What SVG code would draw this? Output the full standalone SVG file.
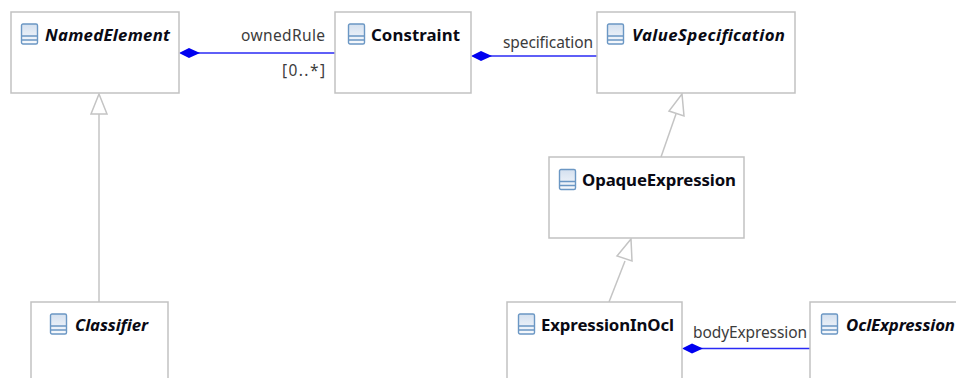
<svg xmlns="http://www.w3.org/2000/svg" width="956" height="378" viewBox="0 0 956 378">
<style>
.box{fill:#fff;stroke:#c2c2c2;stroke-width:1.5}
.name{font-family:"Noto Sans","DejaVu Sans",sans-serif;font-size:16.800px;font-weight:700;fill:#0a0a14}
.abs{font-style:italic}
.lbl{font-family:"Noto Sans","DejaVu Sans",sans-serif;font-size:15.500px;fill:#3c3c3c}
.gen{fill:none;stroke:#c4c4c4;stroke-width:1.5}
.head{fill:#fff;stroke:#c4c4c4;stroke-width:1.5}
.comp{stroke:#2a2af5;stroke-width:1.7;fill:none}
.dia{fill:#0000f0;stroke:none}
</style>
<defs>
<linearGradient id="g" x1="0" y1="0" x2="0" y2="1"><stop offset="0" stop-color="#d4e0ef"/><stop offset="1" stop-color="#f8fafd"/></linearGradient>
<g id="icon">
<rect x="0.5" y="0.5" width="16" height="20" rx="1.5" fill="url(#g)" stroke="#6b97c4" stroke-width="1.4"/>
<path d="M0.5 12.500H16.500M0.500 16.500H16.500" stroke="#6b97c4" stroke-width="1.4" fill="none"/>
</g>
<path id="diamond" d="M0 0L10 -5L21 0L10 5Z"/>
</defs>
<g id="connectors">
<path class="gen" d="M99 114V302"/>
<path class="head" d="M99 94L91 114H107Z"/>
<path class="gen" d="M661 157L676 114"/>
<path class="head" d="M682 94L669 111L684 116Z"/>
<path class="gen" d="M609 302L625 261"/>
<path class="head" d="M631 239L617 256L632 261Z"/>
<path class="comp" d="M190 53H335"/>
<use href="#diamond" class="dia" x="179" y="53"/>
<path class="comp" d="M482 56H597"/>
<use href="#diamond" class="dia" x="471" y="56"/>
<path class="comp" d="M693 348.500H810"/>
<use href="#diamond" class="dia" x="682" y="348.500"/>
<text class="lbl" x="241" y="41" textLength="84">ownedRule</text>
<text class="lbl" x="282" y="76" textLength="43">[0..*]</text>
<text class="lbl" x="503" y="48" textLength="90">specification</text>
<text class="lbl" x="693" y="338" textLength="114">bodyExpression</text>
</g>
<g id="NamedElement">
<rect class="box" x="11" y="12" width="168" height="81"/>
<use href="#icon" x="21" y="23.500"/>
<text class="name abs" x="45" y="41" textLength="125">NamedElement</text>
</g>
<g id="Constraint">
<rect class="box" x="335" y="12" width="136" height="81"/>
<use href="#icon" x="348" y="23.500"/>
<text class="name" x="371" y="41" textLength="89">Constraint</text>
</g>
<g id="ValueSpecification">
<rect class="box" x="597" y="12" width="198" height="81"/>
<use href="#icon" x="607" y="23.500"/>
<text class="name abs" x="632" y="41" textLength="153">ValueSpecification</text>
</g>
<g id="OpaqueExpression">
<rect class="box" x="549" y="157" width="195" height="81"/>
<use href="#icon" x="559" y="169"/>
<text class="name" x="582" y="186" textLength="154">OpaqueExpression</text>
</g>
<g id="Classifier">
<rect class="box" x="31" y="302" width="137" height="90"/>
<use href="#icon" x="50" y="313.500"/>
<text class="name abs" x="75" y="331" textLength="73">Classifier</text>
</g>
<g id="ExpressionInOcl">
<rect class="box" x="507" y="302" width="175" height="90"/>
<use href="#icon" x="518" y="313.500"/>
<text class="name" x="541" y="331" textLength="133">ExpressionInOcl</text>
</g>
<g id="OclExpression">
<rect class="box" x="810" y="302" width="170" height="90"/>
<use href="#icon" x="821" y="313.500"/>
<text class="name abs" x="846" y="331" textLength="109">OclExpression</text>
</g>
</svg>
